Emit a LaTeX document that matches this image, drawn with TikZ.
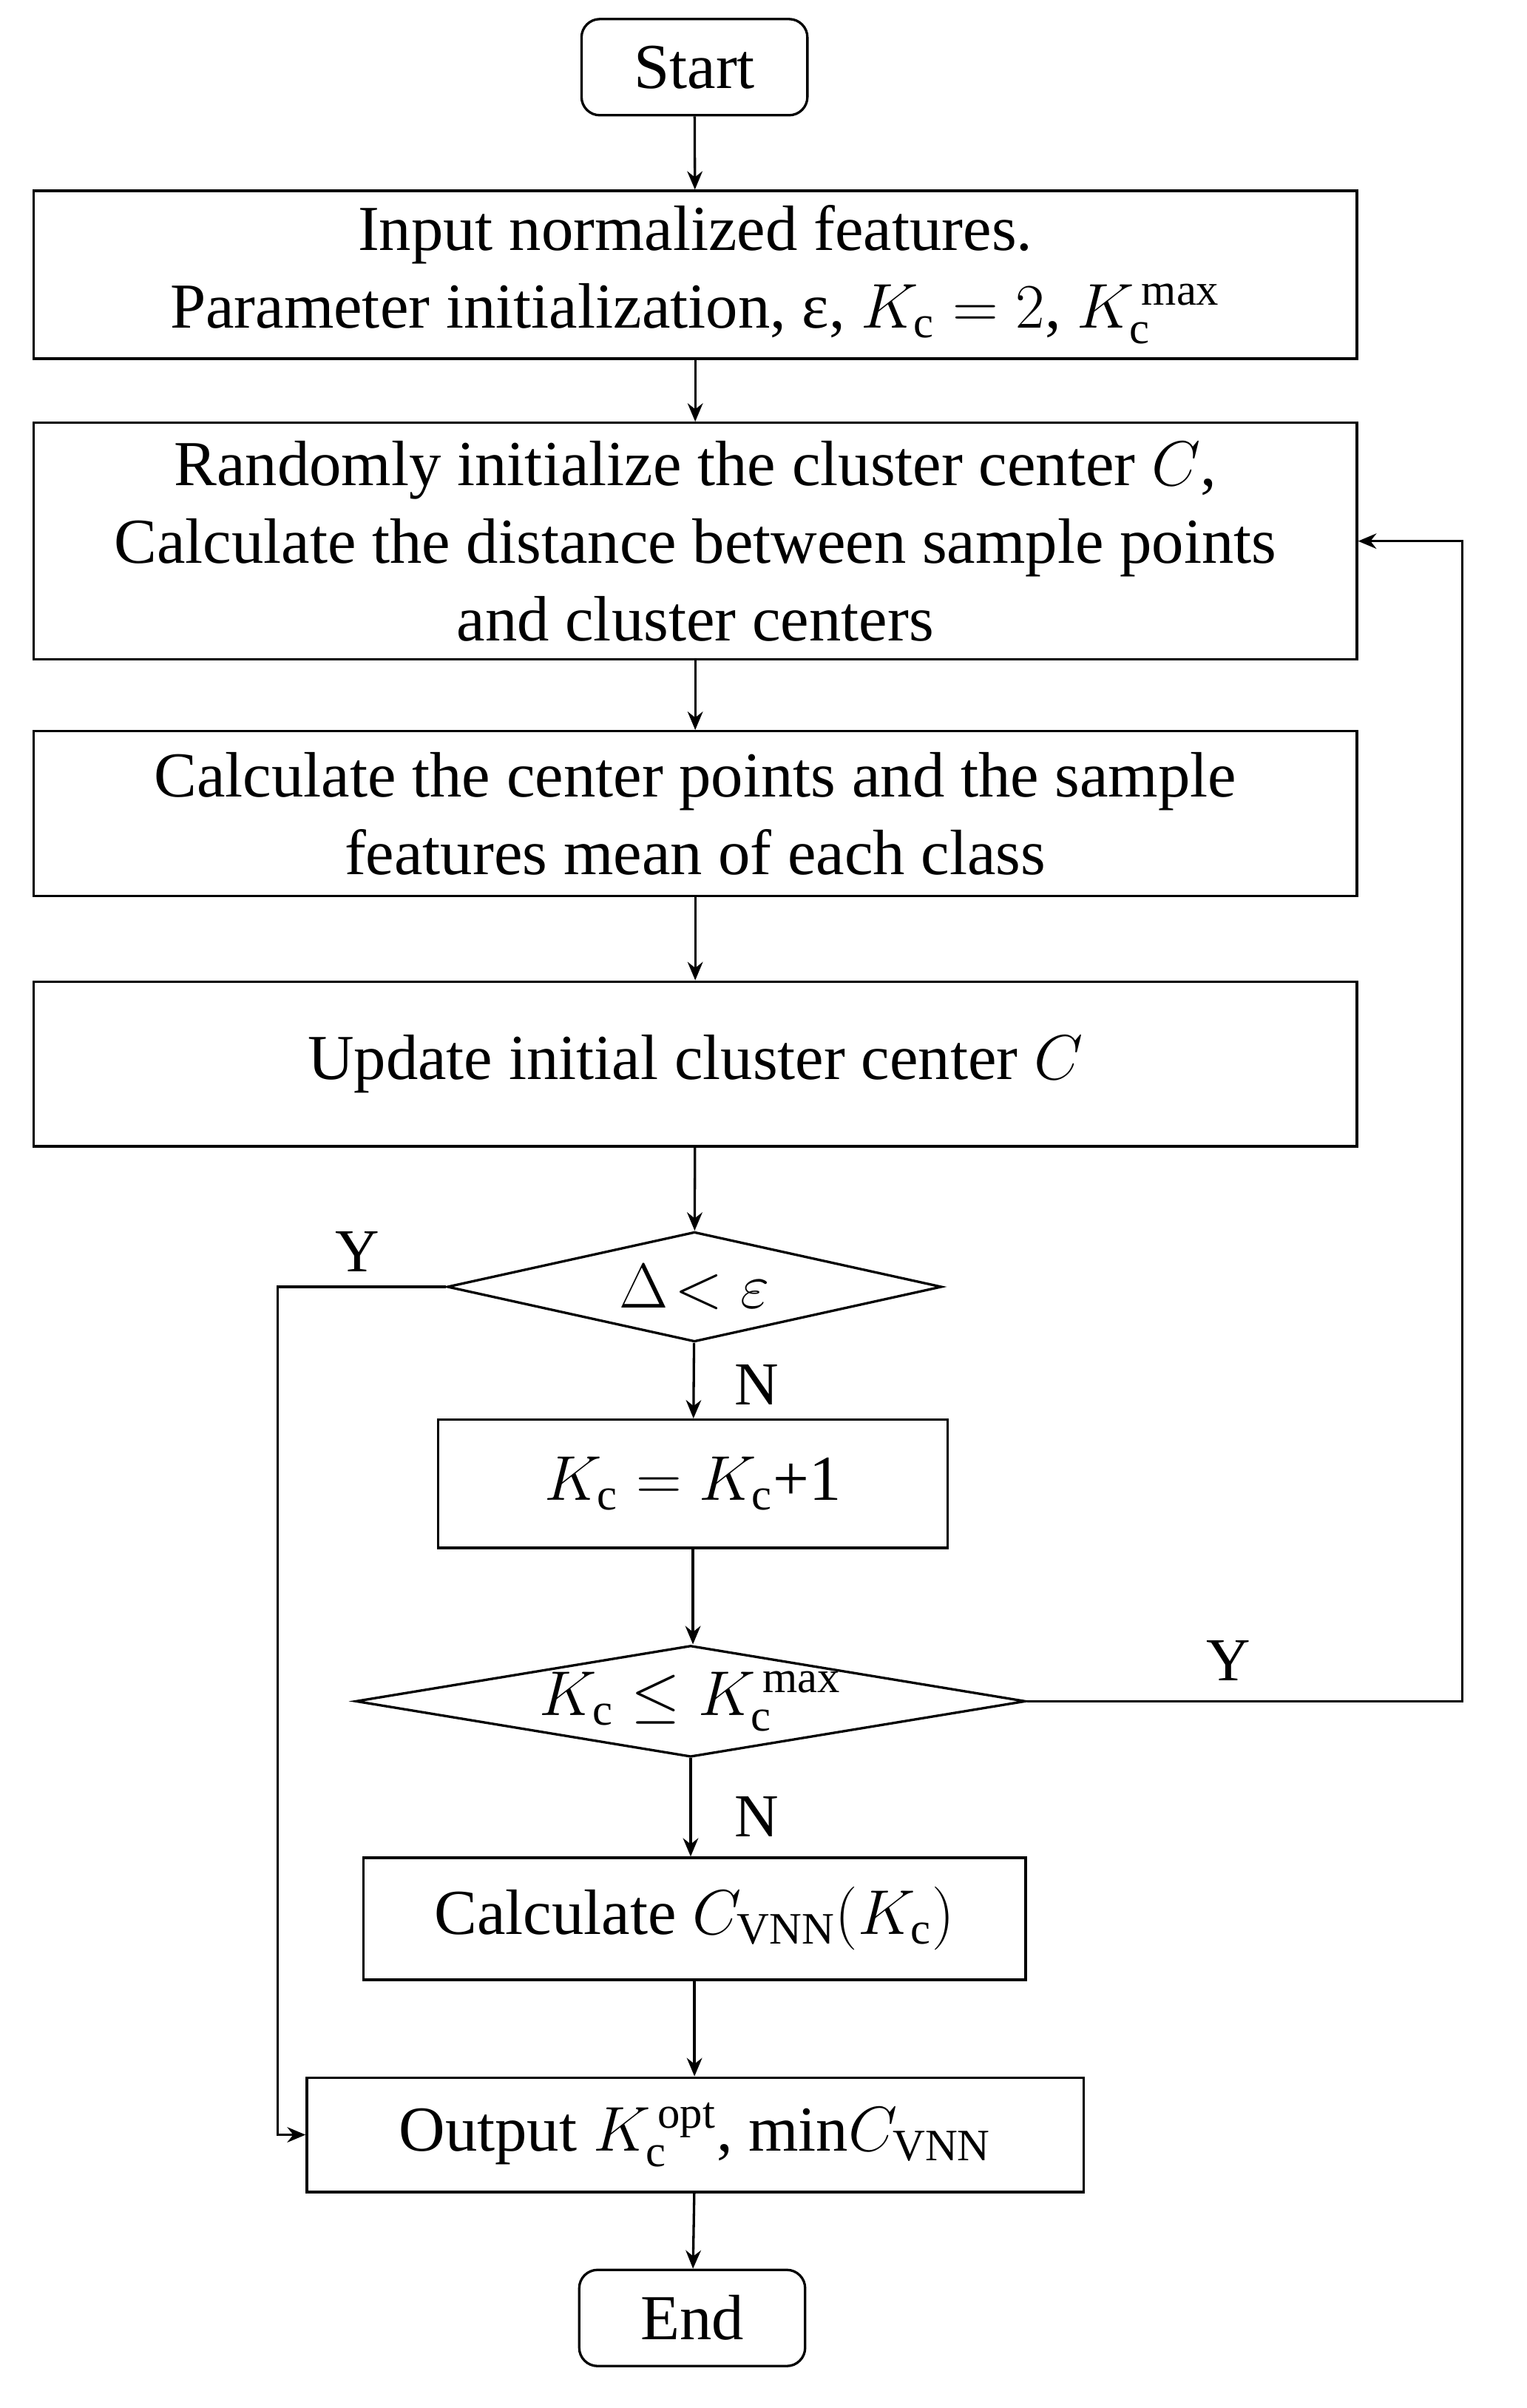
\documentclass[tikz,border=0pt]{standalone}
\usepackage{fontspec}
\setmainfont{Liberation Serif}
\usetikzlibrary{shapes.geometric,arrows.meta}
\begin{document}
\begin{tikzpicture}[x=0.5pt,y=-0.5pt,
  every node/.style={font=\fontsize{21}{25.5}\selectfont},
  box/.style={draw,line width=0.8pt,align=center,inner sep=0pt},
  term/.style={box,rounded corners=6pt,minimum width=74pt,minimum height=31.5pt},
  dia/.style={draw,line width=0.8pt,diamond,shape aspect=6,inner sep=0pt},
  arr/.style={line width=0.8pt,-{Stealth[length=6pt,width=5pt]}},
  lab/.style={font=\fontsize{20}{25}\selectfont}]
\useasboundingbox (0,0) rectangle (1000,1577.5);
\node[term] (start) at (455,44) {Start};
\node[box,minimum width=433.5pt,minimum height=55pt] (b1) at (455.5,180) {Input normalized features.\\Parameter initialization, ε, $K_{\mathrm{c}}=2$, $K_{\mathrm{c}}^{\,\max}$};
\node[box,minimum width=433.5pt,minimum height=77.5pt] (b2) at (455.5,354.5) {Randomly initialize the cluster center $C$,\\Calculate the distance between sample points\\and cluster centers};
\node[box,minimum width=433.5pt,minimum height=54pt] (b3) at (455.5,533) {Calculate the center points and the sample\\features mean of each class};
\node[box,minimum width=433.5pt,minimum height=54pt] (b4) at (455.5,697) {Update initial cluster center $C$};
\node[dia,minimum width=162pt,minimum height=36pt] (d1) at (455,843) {$\Delta\!<\varepsilon$};
\node[box,minimum width=167pt,minimum height=42pt] (b5) at (454,972) {$K_{\mathrm{c}}=K_{\mathrm{c}}$+1};
\node[dia,minimum width=219.5pt,minimum height=36.5pt] (d2) at (452.5,1114.5) {$K_{\mathrm{c}}\le K_{\mathrm{c}}^{\,\max}$};
\node[box,minimum width=217pt,minimum height=40pt] (b6) at (455,1257) {Calculate $C_{\mathrm{VNN}}(K_{\mathrm{c}})$};
\node[box,minimum width=254.5pt,minimum height=37.5pt] (b7) at (455.5,1398.5) {Output $K_{\mathrm{c}}^{\,\mathrm{opt}}$, min$C_{\mathrm{VNN}}$};
\node[term] (end) at (453.5,1518.5) {End};
\draw[arr] (start) -- (b1);
\draw[arr] (b1) -- (b2);
\draw[arr] (b2) -- (b3);
\draw[arr] (b3) -- (b4);
\draw[arr] (b4) -- (d1);
\draw[arr] (d1) -- (b5);
\draw[arr] (b5) -- (b5 |- d2.north);
\draw[arr] (d2) -- (d2 |- b6.north);
\draw[arr] (b6) -- (b6 |- b7.north);
\draw[arr] (b7) -- (end);
\coordinate (r1) at (958,1114.5);
\coordinate (r2) at (958,354.5);
\draw[arr] (d2.east) -- (r1) -- (r2) -- (b2.east);
\coordinate (l1) at (182,843);
\coordinate (l2) at (182,1398.5);
\draw[arr] (d1.west) -- (l1) -- (l2) -- (b7.west);
\node[lab] (y1) at (234,820) {Y};
\node[lab] (y2) at (805,1088) {Y};
\node[lab] (n1) at (496,907) {N};
\node[lab] (n2) at (496,1190) {N};
\end{tikzpicture}
\end{document}
